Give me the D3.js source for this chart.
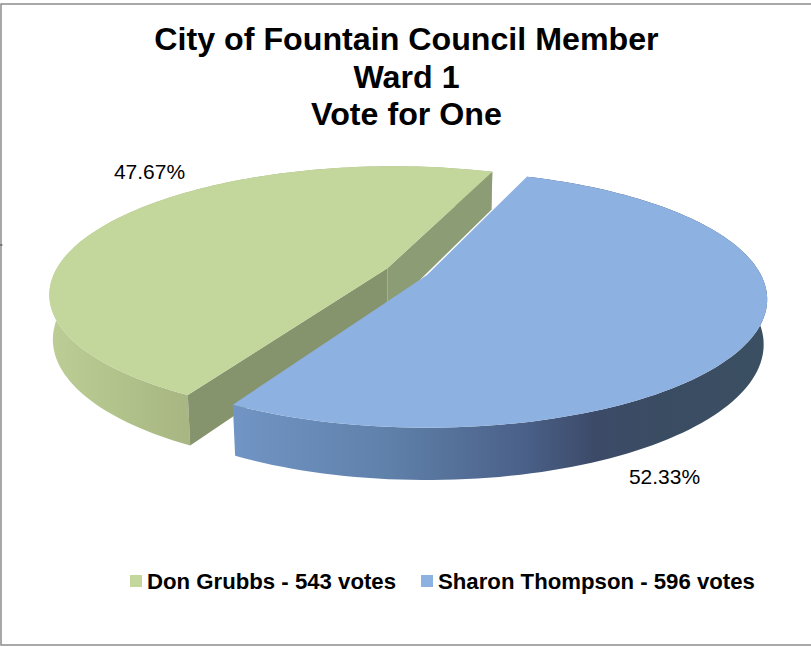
<!DOCTYPE html>
<html>
<head>
    <meta charset="utf-8"/>
    <style>
        html, body { margin: 0; padding: 0; background: #fff; }
        svg { display: block; }
        text { font-family: "Liberation Sans", Arial, sans-serif; fill: #000; }
    </style>
</head>
<body>
<div id="chart"></div>
<script src="https://cdnjs.cloudflare.com/ajax/libs/d3/7.8.5/d3.min.js"></script>
<script type="text/javascript">

    var candidates = ["Don Grubbs", "Sharon Thompson"];
    var votes = [543, 596];
    var percentLabels = ["47.67%", "52.33%"];
    var titleLines = ["City of Fountain Council Member", "Ward 1", "Vote for One"];
    var legendLabels = ["Don Grubbs - 543 votes", "Sharon Thompson - 596 votes"];
    var topColors = ["#c3d69b", "#8db1e1"];

    var w = 811;
    var h = 647;

    // the tilted disc: apex of the pie on screen, radii, perspective strength
    var apex = [427, 275];
    var rx = 334;
    var ry = 123.7;
    var persp = 0.19;
    var bottomScale = 0.99;
    var depth = 44;
    var explode = [0.132, 0];
    var deg = Math.PI / 180;

    var svg = d3.select("#chart")
        .append("svg")
        .attr("width", w)
        .attr("height", h);

    var defs = svg.append("defs");

    function hGradient(id, x1, x2, stops) {
        var g = defs.append("linearGradient")
            .attr("id", id)
            .attr("gradientUnits", "userSpaceOnUse")
            .attr("x1", x1).attr("x2", x2)
            .attr("y1", 0).attr("y2", 0);
        stops.forEach(function (s) {
            g.append("stop").attr("offset", s[0]).attr("stop-color", s[1]);
        });
    }

    hGradient("greenSide", 50, 190, [[0, "#bccd95"], [0.5, "#b2c28b"], [1, "#a7b682"]]);
    hGradient("blueSide", 230, 767, [
        [0, "#7195c5"], [0.3, "#5f80a9"], [0.55, "#4a6088"],
        [0.68, "#3c4a68"], [0.8, "#3a4c62"], [1, "#3b4f62"]
    ]);

    // frame round the chart, the right side runs off the picture
    svg.append("rect")
        .attr("x", 1).attr("y", 4)
        .attr("width", w + 4).attr("height", 641)
        .attr("fill", "none")
        .attr("stroke", "#8c8c8c")
        .attr("stroke-width", 1.5);

    svg.append("line")
        .attr("x1", 0).attr("x2", 2.5)
        .attr("y1", 245).attr("y2", 245)
        .attr("stroke", "#444")
        .attr("stroke-width", 1);

    var pie = d3.pie()
        .sort(null)
        .startAngle(209 * deg)
        .endAngle((209 + 360) * deg);

    var arcs = pie(votes);

    // plane point (u right, v toward viewer) to screen
    function project(u, v, bottom) {
        var k = 1 / (1 - persp * v);
        return [
            apex[0] + rx * u * k,
            apex[1] + ry * v * k + (bottom ? depth * k : 0)
        ];
    }

    // offset of an exploded slice, along its middle angle
    function sliceOffset(d, amount) {
        var mid = (d.startAngle + d.endAngle) / 2;
        return [Math.sin(mid) * amount, -Math.cos(mid) * amount];
    }

    function rimPoints(d, amount, bottom) {
        var off = sliceOffset(d, amount);
        var r = bottom ? bottomScale : 1;
        return d3.range(0, 121).map(function (i) {
            var t = d.startAngle + (d.endAngle - d.startAngle) * i / 120;
            return project(off[0] + r * Math.sin(t), off[1] - r * Math.cos(t), bottom);
        });
    }

    var line = d3.line();

    function topPath(d, amount) {
        var off = sliceOffset(d, amount);
        return line([project(off[0], off[1], false)].concat(rimPoints(d, amount, false))) + "Z";
    }

    function wallPath(d, amount) {
        return line(rimPoints(d, amount, false).concat(rimPoints(d, amount, true).reverse())) + "Z";
    }

    function cutPath(d, amount, angle) {
        var off = sliceOffset(d, amount);
        var cx = off[0], cy = off[1];
        var sx = Math.sin(angle), sy = -Math.cos(angle);
        return line([
            project(cx, cy, false), project(cx + sx, cy + sy, false),
            project(cx + bottomScale * sx, cy + bottomScale * sy, true), project(cx, cy, true)
        ]) + "Z";
    }

    var don = arcs[0];
    var sharon = arcs[1];
    var donOffset = explode[0];
    var sharonOffset = explode[1];

    // green slice, back to front
    svg.append("path").attr("d", wallPath(don, donOffset)).attr("fill", "url(#greenSide)");
    svg.append("path").attr("d", cutPath(don, donOffset, don.endAngle)).attr("fill", "#8c9c75");
    svg.append("path").attr("d", cutPath(don, donOffset, don.startAngle)).attr("fill", "#85946c");
    svg.append("path").attr("d", topPath(don, donOffset)).attr("fill", topColors[0]);

    // blue slice
    svg.append("path").attr("d", wallPath(sharon, sharonOffset)).attr("fill", "url(#blueSide)");
    svg.append("path").attr("d", topPath(sharon, sharonOffset)).attr("fill", topColors[1]);

    // title
    svg.selectAll(".title")
        .data(titleLines)
        .enter()
        .append("text")
        .attr("class", "title")
        .attr("x", 406.5)
        .attr("y", function (d, i) { return 50 + i * 37.5; })
        .attr("text-anchor", "middle")
        .attr("font-size", 32.2)
        .attr("font-weight", "bold")
        .text(function (d) { return d; });

    // percent labels
    var labelPos = [[149.5, 179], [664.5, 484]];
    svg.selectAll(".pct")
        .data(percentLabels)
        .enter()
        .append("text")
        .attr("class", "pct")
        .attr("x", function (d, i) { return labelPos[i][0]; })
        .attr("y", function (d, i) { return labelPos[i][1]; })
        .attr("text-anchor", "middle")
        .attr("font-size", 21)
        .text(function (d) { return d; });

    // legend
    var legendX = [130, 421];
    var legend = svg.selectAll(".legend")
        .data(candidates)
        .enter()
        .append("g")
        .attr("class", "legend")
        .attr("transform", function (d, i) { return "translate(" + legendX[i] + ",575)"; });

    legend.append("rect")
        .attr("width", 12)
        .attr("height", 12)
        .attr("fill", function (d, i) { return topColors[i]; });

    legend.append("text")
        .attr("x", 17)
        .attr("y", 14)
        .attr("font-size", 22.2)
        .attr("font-weight", "bold")
        .text(function (d, i) { return legendLabels[i]; });

</script>
</body>
</html>
